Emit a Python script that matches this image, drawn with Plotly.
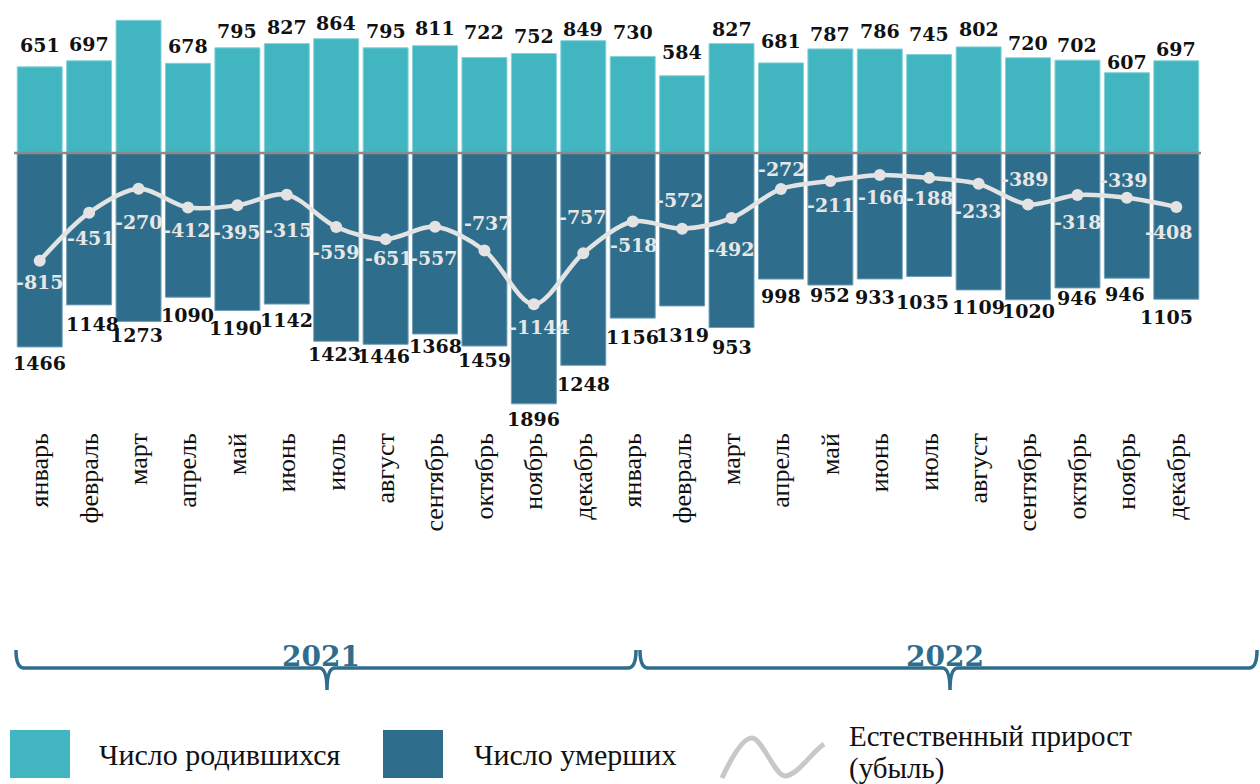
import plotly.graph_objects as go

# ---------------- data ----------------
months = ["январь", "февраль", "март", "апрель", "май", "июнь", "июль", "август",
          "сентябрь", "октябрь", "ноябрь", "декабрь"]
month_labels = months + months
years = ["2021", "2022"]

births = [651, 697, 1003, 678, 795, 827, 864, 795, 811, 722, 752, 849,
          730, 584, 827, 681, 787, 786, 745, 802, 720, 702, 607, 697]
# bar lengths as drawn in the picture
deaths_bars = [1466, 1148, 1273, 1090, 1190, 1142, 1423, 1446, 1368, 1459, 1896, 1605,
               1248, 1156, 1319, 953, 998, 952, 933, 1035, 1109, 1020, 946, 1105]
# numbers printed under the bars
deaths_labels = [1466, 1148, 1273, 1090, 1190, 1142, 1423, 1446, 1368, 1459, 1896, 1248,
                 1156, 1319, 953, 998, 952, 933, 1035, 1109, 1020, 946, 946, 1105]
growth = [-815, -451, -270, -412, -395, -315, -559, -651, -557, -737, -1144, -757,
          -518, -572, -492, -272, -211, -166, -188, -233, -389, -318, -339, -408]
# March 2021 births label is cut off at the top in the reference
births_label_visible = [True, True, False] + [True] * 21

# ---------------- style ----------------
C_BIRTH = "#41b5c0"
C_DEATH = "#2e6e8c"
C_LINE = "#e3e3e3"
C_BRACE = "#2e6e8c"
SERIF = "Liberation Serif"
NUMF = "DejaVu Serif"

W, H = 1260, 784
PX_LEFT, PX_RIGHT = 15, 1201
PX_TOP, PX_BOT = 5, 427
PX_ZERO = 153
K = 0.1323  # px per unit

births_dy = [22, 17, 17, 17, 17, 17, 16, 17, 18, 25, 18, 12,
             24, 24, 15, 22, 15, 18, 20, 18, 15, 15, 11, 12]
deaths_dy = [16, 19, 14, 18, 18, 16, 13, 12, 12, 14, 15, 19,
             19, 29, 19, 17, 10, 18, 26, 17, 11, 10, 16, 18]
deaths_dx = [0, 3, -2, 0, -2, 0, -2, -2, 0, 0, 0, 0,
             0, 0, 0, 0, 0, -5, -7, 0, 0, 0, -2, -10]
growth_dy = [21, 25, 33, 22, 27, 35, 25, 19, 31, -28, 23, -36,
             23, -29, 31, -20, 24, 22, 20, 27, -25, 27, -18, 25]
growth_dx = [0, 2, 0, -1, 0, 2, 0, 3, -1, 4, 6, 0,
             1, -2, -1, 1, 1, 2, 1, -1, -3, 1, -3, -7]

xs = list(range(len(month_labels)))

fig = go.Figure()
fig.add_trace(go.Bar(x=xs, y=births, width=0.91, showlegend=False,
                     marker=dict(color=C_BIRTH, line=dict(color="#86d2d8", width=1))))
fig.add_trace(go.Bar(x=xs, y=[-d for d in deaths_bars], width=0.91, showlegend=False,
                     marker=dict(color=C_DEATH, line=dict(color="#6f9fb5", width=1))))
fig.add_trace(go.Scatter(x=xs, y=growth, mode="lines+markers", showlegend=False,
                         line=dict(color=C_LINE, width=4.5, shape="spline", smoothing=0.9),
                         marker=dict(size=12, color=C_LINE)))

ann = []
num_font = dict(family=NUMF, size=19, color="#111111")
for i in xs:
    if births_label_visible[i]:
        ann.append(dict(x=i, y=births[i], xref="x", yref="y", text=f"<b>{births[i]}</b>",
                        showarrow=False, yshift=births_dy[i], font=num_font,
                        xanchor="center", yanchor="middle"))
    ann.append(dict(x=i, y=-deaths_bars[i], xref="x", yref="y", text=f"<b>{deaths_labels[i]}</b>",
                    showarrow=False, yshift=-deaths_dy[i], xshift=deaths_dx[i], font=num_font,
                    xanchor="center", yanchor="middle"))
    ann.append(dict(x=i, y=growth[i], xref="x", yref="y", text=f"<b>{growth[i]}</b>",
                    showarrow=False, yshift=-growth_dy[i], xshift=growth_dx[i],
                    font=dict(family=NUMF, size=19, color="#e6e6e6"),
                    xanchor="center", yanchor="middle"))


def px(x):
    return x / W


def py(y):
    return (H - y) / H


shapes = []
# zero line
shapes.append(dict(type="line", xref="paper", yref="paper", x0=px(14), x1=px(1201),
                   y0=py(PX_ZERO), y1=py(PX_ZERO), line=dict(color="#8a8a8a", width=2.5),
                   layer="above"))


def brace(x0, x1, xm, yl=668, ytop=650, ytip=690):
    pts = [
        f"M {px(x0)},{py(ytop)}",
        f"Q {px(x0)},{py(yl)} {px(x0 + 8)},{py(yl)}",
        f"L {px(xm - 8)},{py(yl)}",
        f"Q {px(xm)},{py(yl)} {px(xm)},{py(ytip)}",
        f"Q {px(xm)},{py(yl)} {px(xm + 8)},{py(yl)}",
        f"L {px(x1 - 8)},{py(yl)}",
        f"Q {px(x1)},{py(yl)} {px(x1)},{py(ytop)}",
    ]
    return dict(type="path", xref="paper", yref="paper", path=" ".join(pts),
                line=dict(color=C_BRACE, width=3.5))


shapes.append(brace(16, 636, 327))
shapes.append(brace(640, 1257, 950))
for yr, cx in zip(years, [321, 945]):
    ann.append(dict(x=px(cx), y=py(656), xref="paper", yref="paper", text=f"<b>{yr}</b>",
                    showarrow=False, font=dict(family=NUMF, size=28, color=C_BRACE),
                    xanchor="center", yanchor="middle"))

# legend
shapes.append(dict(type="rect", xref="paper", yref="paper", x0=px(10), x1=px(70),
                   y0=py(778), y1=py(730), fillcolor=C_BIRTH, line=dict(width=0)))
shapes.append(dict(type="rect", xref="paper", yref="paper", x0=px(383), x1=px(443),
                   y0=py(778), y1=py(730), fillcolor=C_DEATH, line=dict(width=0)))
wave = (f"M {px(722)},{py(778)} C {px(735)},{py(750)} {px(745)},{py(738)} {px(752)},{py(738)} "
        f"C {px(762)},{py(738)} {px(775)},{py(776)} {px(785)},{py(776)} "
        f"C {px(797)},{py(776)} {px(812)},{py(752)} {px(824)},{py(744)}")
shapes.append(dict(type="path", xref="paper", yref="paper", path=wave,
                   line=dict(color="#c8c8c8", width=5)))
leg_font = dict(family=SERIF, size=30, color="#111111")
ann.append(dict(x=px(97), y=py(754), xref="paper", yref="paper", text="Число родившихся",
                showarrow=False, font=leg_font, xanchor="left", yanchor="middle"))
ann.append(dict(x=px(472), y=py(754), xref="paper", yref="paper", text="Число умерших",
                showarrow=False, font=leg_font, xanchor="left", yanchor="middle"))
leg_font2 = dict(family=SERIF, size=29, color="#111111")
ann.append(dict(x=px(847), y=py(736), xref="paper", yref="paper", text="Естественный прирост",
                showarrow=False, font=leg_font2, xanchor="left", yanchor="middle"))
ann.append(dict(x=px(847), y=py(768), xref="paper", yref="paper", text="(убыль)",
                showarrow=False, font=leg_font2, xanchor="left", yanchor="middle"))

y_top = (PX_ZERO - PX_TOP) / K
y_bot = (PX_ZERO - PX_BOT) / K

fig.update_layout(
    width=W, height=H, margin=dict(l=0, r=0, t=0, b=0),
    paper_bgcolor="white", plot_bgcolor="white",
    barmode="relative", bargap=0.09,
    xaxis=dict(domain=[PX_LEFT / W, PX_RIGHT / W], range=[-0.5, len(xs) - 0.5],
               tickvals=xs, ticktext=month_labels, tickangle=-90,
               tickfont=dict(family=SERIF, size=26, color="#111111"),
               showgrid=False, zeroline=False, showline=False, ticks=""),
    yaxis=dict(domain=[py(PX_BOT), py(PX_TOP)], range=[y_bot, y_top],
               showgrid=False, zeroline=False, showticklabels=False, showline=False),
    annotations=ann, shapes=shapes,
)

fig.write_html("out.html", config={"displayModeBar": False},
               post_script="document.body.style.margin='0';document.body.style.overflow='hidden';")
